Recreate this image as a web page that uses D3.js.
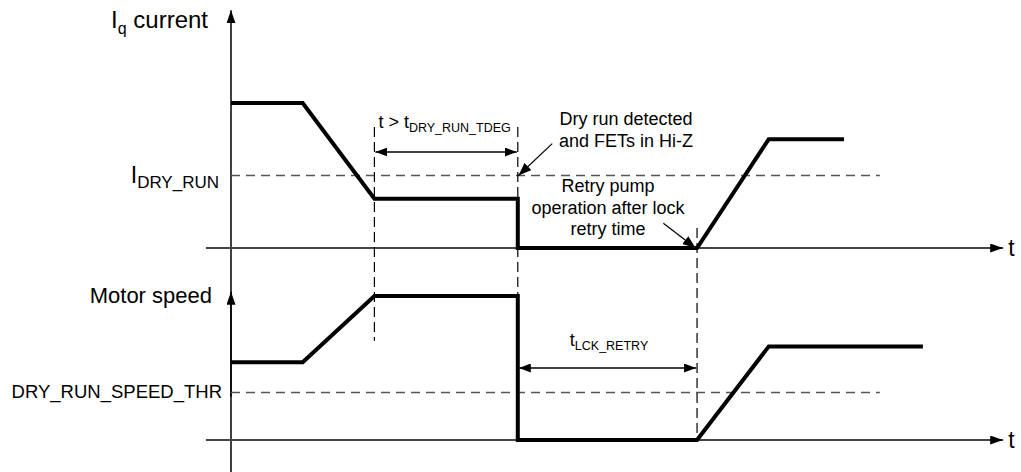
<!DOCTYPE html>
<html>
<head>
<meta charset="utf-8">
<script src="https://cdn.jsdelivr.net/npm/d3@7"></script>
<style>
  body { margin: 0; background: #fff; }
  text { font-family: "Liberation Sans", Arial, sans-serif; fill: #000; }
</style>
</head>
<body>
<div id="chart"></div>
<script>
const width = 1021;
const height = 472;

// time breakpoints (arbitrary units) and levels of each trace
const currentTimes = [0, 1, 2, 4, 4, 6.5, 7.5, 8.55];
const currentLevels = [1, 1, 0.34, 0.34, 0, 0, 0.75, 0.75];
const speedTimes = [0, 1, 2, 4, 4, 6.5, 7.5, 9.65];
const speedLevels = [0.54, 0.54, 1, 1, 0, 0, 0.65, 0.65];
const thresholdLevels = [0.5, 0.33];          // I_DRY_RUN, DRY_RUN_SPEED_THR
const thresholdEnd = 9.05;
const eventTimes = [2, 4, 6.5];               // dashed markers
const axisEnd = 10.77;

const x = d3.scaleLinear().domain([0, 10]).range([231, 948]);
const yI = d3.scaleLinear().domain([0, 1]).range([248, 103]);
const yS = d3.scaleLinear().domain([0, 1]).range([440, 296]);

const svg = d3.select("#chart")
  .append("svg")
    .attr("width", width)
    .attr("height", height);

const defs = svg.append("defs");
function marker(id, len, wid) {
  defs.append("marker")
    .attr("id", id)
    .attr("viewBox", `0 0 ${len} ${wid}`)
    .attr("refX", len).attr("refY", wid / 2)
    .attr("markerWidth", len).attr("markerHeight", wid)
    .attr("markerUnits", "userSpaceOnUse")
    .attr("orient", "auto-start-reverse")
  .append("path")
    .attr("d", `M0,0L${len},${wid / 2}L0,${wid}Z`)
    .attr("fill", "#000");
}
marker("ax", 13, 9);
marker("dim", 12, 9);
marker("ptr", 13, 10);

// axes
svg.append("line")
  .attr("x1", x(0)).attr("x2", x(0))
  .attr("y1", height).attr("y2", yI(1.64))
  .attr("stroke", "#000").attr("stroke-width", 1.5)
  .attr("marker-end", "url(#ax)");
svg.append("line")
  .attr("x1", x(0)).attr("x2", x(0))
  .attr("y1", yS(0.3)).attr("y2", yS(1.03))
  .attr("stroke", "#000").attr("stroke-width", 1.5)
  .attr("marker-end", "url(#ax)");

[yI, yS].forEach(y => {
  svg.append("line")
    .attr("x1", x(-0.35)).attr("x2", x(axisEnd))
    .attr("y1", y(0)).attr("y2", y(0))
    .attr("stroke", "#444").attr("stroke-width", 2)
    .attr("marker-end", "url(#ax)");
  svg.append("text")
    .attr("x", x(axisEnd) + 5).attr("y", y(0) + 8)
    .style("font-size", "23px")
    .text("t");
});

// thresholds
[[yI, thresholdLevels[0]], [yS, thresholdLevels[1]]].forEach(([y, v]) => {
  svg.append("line")
    .attr("x1", x(0)).attr("x2", x(thresholdEnd))
    .attr("y1", y(v)).attr("y2", y(v))
    .attr("stroke", "#555").attr("stroke-width", 1.5)
    .attr("stroke-dasharray", "9,6");
});

// event markers (dashed verticals)
const markerSpans = [[yI(0.834), yS(0.69)], [yI(0.834), yS(1)], [yI(0.138), yS(0)]];
eventTimes.forEach((t, i) => {
  svg.append("line")
    .attr("x1", x(t)).attr("x2", x(t))
    .attr("y1", markerSpans[i][0]).attr("y2", markerSpans[i][1])
    .attr("stroke", "#000").attr("stroke-width", 1.2)
    .attr("stroke-dasharray", "10,5");
});

// traces
const currentLine = d3.line().x(d => x(d[0])).y(d => yI(d[1]));
const speedLine = d3.line().x(d => x(d[0])).y(d => yS(d[1]));
svg.append("path")
  .attr("d", currentLine(d3.zip(currentTimes, currentLevels)))
  .attr("fill", "none").attr("stroke", "#000").attr("stroke-width", 4);
svg.append("path")
  .attr("d", speedLine(d3.zip(speedTimes, speedLevels)))
  .attr("fill", "none").attr("stroke", "#000").attr("stroke-width", 4);

// dimension arrows
function dim(t1, t2, yPix) {
  svg.append("line")
    .attr("x1", x(t1) + 1).attr("x2", x(t2) - 1)
    .attr("y1", yPix).attr("y2", yPix)
    .attr("stroke", "#000").attr("stroke-width", 1.5)
    .attr("marker-start", "url(#dim)")
    .attr("marker-end", "url(#dim)");
}
dim(eventTimes[0], eventTimes[1], yI(0.662));
dim(eventTimes[1], eventTimes[2], yS(0.5));

// labels
function sublabel(xp, yp, main, sub, size, subSize, anchor, tail) {
  const t = svg.append("text")
    .attr("x", xp).attr("y", yp)
    .attr("text-anchor", anchor)
    .style("font-size", size + "px");
  t.append("tspan").text(main);
  t.append("tspan").attr("dy", subSize * 0.35).style("font-size", subSize + "px").text(sub);
  if (tail) t.append("tspan").attr("dy", -subSize * 0.35).text(tail);
  return t;
}
sublabel(208, 28, "I", "q", 24, 16, "end", " current");
sublabel(219, yI(0.5) + 7, "I", "DRY_RUN", 23, 17, "end");
sublabel(x(2) + 4, yI(0.83), "t > t", "DRY_RUN_TDEG", 18, 12.5, "start");
sublabel(x(4) + 52, yS(0.5) - 22, "t", "LCK_RETRY", 18, 12.5, "start");

svg.append("text")
  .attr("x", 212).attr("y", yS(1) + 7)
  .attr("text-anchor", "end")
  .style("font-size", "22px")
  .text("Motor speed");
svg.append("text")
  .attr("x", 222).attr("y", yS(thresholdLevels[1]) + 6)
  .attr("text-anchor", "end")
  .style("font-size", "18.5px")
  .text("DRY_RUN_SPEED_THR");

// annotations
function note(cx, lines, y0, step) {
  const t = svg.append("text")
    .attr("text-anchor", "middle")
    .style("font-size", "18px");
  lines.forEach((s, i) => t.append("tspan").attr("x", cx).attr("y", y0 + i * step).text(s));
}
note(626, ["Dry run detected", "and FETs in Hi-Z"], 125, 22);
note(608, ["Retry pump", "operation after lock", "retry time"], 192, 21.5);

function pointer(t1, v1, t2, v2) {
  svg.append("line")
    .attr("x1", x(t1)).attr("y1", yI(v1))
    .attr("x2", x(t2)).attr("y2", yI(v2))
    .attr("stroke", "#000").attr("stroke-width", 1.2)
    .attr("marker-end", "url(#ptr)");
}
pointer(4.48, 0.72, 4.01, 0.5);
pointer(6.03, 0.17, 6.48, 0.0);
</script>
</body>
</html>
